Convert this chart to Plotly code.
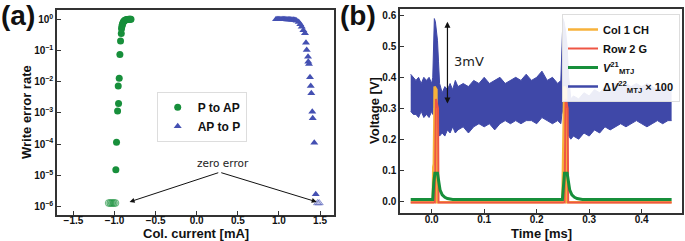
import plotly.graph_objects as go

# ---------------- Panel (a) data ----------------
p2ap_current = [-0.918, -0.927, -0.935, -0.943, -0.955, -0.951, -0.963, -0.976, -0.984,
                -0.915, -0.910, -0.905, -0.900, -0.893, -0.885, -0.877, -0.868, -0.858,
                -0.848, -0.838, -0.828, -0.818, -0.808, -0.800]
p2ap_wer = [0.35, 0.20, 0.075, 0.013, 0.0073, 0.002, 0.00115, 1.15e-4, 1.5e-5,
            0.50, 0.60, 0.68, 0.75, 0.82, 0.88, 0.92, 0.95, 0.97,
            0.985, 0.99, 1.0, 1.0, 1.0, 1.0]
p2ap_zero_current = [-1.07, -1.05, -1.03, -1.01, -0.99]
p2ap_zero_wer = [1.3e-6, 1.3e-6, 1.3e-6, 1.3e-6, 1.3e-6]

ap2p_current = [0.965, 0.980, 0.995, 1.010, 1.025, 1.040, 1.055, 1.070, 1.085, 1.100,
                1.115, 1.130, 1.145, 1.160, 1.175, 1.190, 1.205, 1.216, 1.240, 1.260,
                1.277, 1.297, 1.317, 1.329, 1.338, 1.354, 1.357, 1.366, 1.378, 1.387,
                1.394, 1.406, 1.411, 1.430, 1.448]
ap2p_wer = [1.0, 1.0, 1.0, 1.0, 1.0, 1.0, 1.0, 1.0, 1.0, 0.99,
            0.99, 0.98, 0.98, 0.97, 0.96, 0.95, 0.93, 0.90, 0.82, 0.70,
            0.58, 0.45, 0.36, 0.178, 0.104, 0.063, 0.044, 0.037, 0.0138, 0.0073,
            0.0043, 0.0011, 6.7e-4, 1.1e-4, 2.5e-6]
ap2p_zero_current = [1.47, 1.49]
ap2p_zero_wer = [1.3e-6, 1.3e-6]

# ---------------- Panel (b) data ----------------
blue_t = [-0.040, -0.035, -0.030, -0.025, -0.020, -0.015, -0.010, -0.005, 0.000, 0.002,
          0.003, 0.005, 0.007, 0.009, 0.011, 0.013, 0.015,
          0.020, 0.025, 0.030, 0.035, 0.040, 0.045, 0.050, 0.060, 0.070, 0.080,
          0.090, 0.100, 0.110, 0.120, 0.130, 0.140, 0.150, 0.160, 0.170, 0.180,
          0.190, 0.200, 0.210, 0.220, 0.230, 0.240, 0.246,
          0.248, 0.250, 0.252, 0.255, 0.258, 0.261, 0.265,
          0.270, 0.280, 0.290, 0.300, 0.310, 0.320, 0.330, 0.340, 0.350, 0.360,
          0.370, 0.380, 0.390, 0.400, 0.410, 0.420, 0.430, 0.440, 0.450, 0.457]
blue_upper = [0.41, 0.40, 0.39, 0.40, 0.38, 0.40, 0.39, 0.40, 0.38, 0.40,
              0.50, 0.59, 0.58, 0.55, 0.52, 0.45, 0.38,
              0.35, 0.37, 0.36, 0.38, 0.36, 0.39, 0.37, 0.38, 0.37, 0.39,
              0.38, 0.40, 0.38, 0.39, 0.40, 0.38, 0.39, 0.40, 0.39, 0.41,
              0.39, 0.40, 0.42, 0.39, 0.40, 0.38, 0.39,
              0.50, 0.59, 0.58, 0.55, 0.50, 0.40, 0.33,
              0.34, 0.33, 0.35, 0.34, 0.36, 0.35, 0.37, 0.36, 0.38, 0.37,
              0.38, 0.37, 0.38, 0.37, 0.38, 0.37, 0.36, 0.37, 0.36, 0.36]
blue_lower = [0.29, 0.28, 0.28, 0.27, 0.29, 0.27, 0.28, 0.27, 0.29, 0.28,
              0.30, 0.33, 0.34, 0.30, 0.25, 0.22, 0.21,
              0.22, 0.21, 0.23, 0.22, 0.24, 0.22, 0.23, 0.24, 0.22, 0.24,
              0.25, 0.24, 0.25, 0.23, 0.25, 0.26, 0.25, 0.26, 0.25, 0.26,
              0.26, 0.25, 0.27, 0.26, 0.25, 0.26, 0.25,
              0.28, 0.30, 0.30, 0.28, 0.23, 0.21, 0.20,
              0.21, 0.20, 0.22, 0.21, 0.23, 0.22, 0.24, 0.23, 0.24, 0.25,
              0.24, 0.25, 0.26, 0.25, 0.24, 0.25, 0.26, 0.25, 0.26, 0.26]

orange_t = [-0.040, 0.002, 0.003, 0.004, 0.005, 0.0055, 0.009, 0.0095,
            0.249, 0.250, 0.251, 0.252, 0.2525, 0.256, 0.2565, 0.457]
orange_v = [-0.004, -0.004, 0.11, 0.12, 0.25, 0.37, 0.36, -0.004,
            -0.004, 0.11, 0.12, 0.25, 0.37, 0.36, -0.004, -0.004]

red_t = [-0.040, 0.006, 0.008, 0.012, 0.013, 0.253, 0.255, 0.259, 0.260, 0.457]
red_v = [-0.005, -0.005, 0.33, 0.30, -0.005, -0.005, 0.33, 0.30, -0.005, -0.005]

green_t = [-0.040, 0.002, 0.004, 0.006, 0.011, 0.013, 0.016, 0.020, 0.025, 0.030, 0.040,
           0.249, 0.251, 0.253, 0.258, 0.260, 0.263, 0.267, 0.272, 0.277, 0.287, 0.457]
green_v = [0.005, 0.005, 0.06, 0.09, 0.09, 0.06, 0.035, 0.02, 0.012, 0.008, 0.005,
           0.005, 0.06, 0.09, 0.09, 0.06, 0.035, 0.02, 0.012, 0.008, 0.005, 0.005]

a_xticks = [-1.5, -1.0, -0.5, 0.0, 0.5, 1.0, 1.5]
a_yticks = [1, 1e-1, 1e-2, 1e-3, 1e-4, 1e-5, 1e-6]
a_yticktext = ["10<sup>0</sup>", "10<sup>\u22121</sup>", "10<sup>\u22122</sup>",
               "10<sup>\u22123</sup>", "10<sup>\u22124</sup>", "10<sup>\u22125</sup>",
               "10<sup>\u22126</sup>"]
b_xticks = [0.0, 0.1, 0.2, 0.3, 0.4]
b_yticks = [0.0, 0.1, 0.2, 0.3, 0.4, 0.5, 0.6]

GREEN = "#178f3b"
BLUE_A = "#4450b2"
BLUE_B = "#3f48a8"
ORANGE = "#f7b23b"
RED = "#ee5544"

W, H = 685, 241
FONT = "Liberation Sans"

fig = go.Figure()

# ---- panel (a)
fig.add_trace(go.Scatter(x=p2ap_current, y=p2ap_wer, mode="markers", name="P to AP",
                         marker=dict(symbol="circle", size=7, color=GREEN),
                         xaxis="x", yaxis="y", legend="legend"))
fig.add_trace(go.Scatter(x=ap2p_current, y=ap2p_wer, mode="markers", name="AP to P",
                         marker=dict(symbol="triangle-up", size=7, color=BLUE_A),
                         xaxis="x", yaxis="y", legend="legend"))
fig.add_trace(go.Scatter(x=p2ap_zero_current, y=p2ap_zero_wer, mode="markers", showlegend=False,
                         marker=dict(symbol="circle", size=7, color="rgba(23,143,59,0.25)",
                                     line=dict(color="rgba(23,143,59,0.55)", width=1)),
                         xaxis="x", yaxis="y"))
fig.add_trace(go.Scatter(x=ap2p_zero_current, y=ap2p_zero_wer, mode="markers", showlegend=False,
                         marker=dict(symbol="triangle-up", size=7, color="rgba(68,80,178,0.2)",
                                     line=dict(color="rgba(68,80,178,0.55)", width=1)),
                         xaxis="x", yaxis="y"))

# ---- panel (b)
fig.add_trace(go.Scatter(x=blue_t, y=blue_upper, mode="lines", showlegend=False,
                         line=dict(color=BLUE_B, width=1), xaxis="x2", yaxis="y2"))
fig.add_trace(go.Scatter(x=blue_t, y=blue_lower, mode="lines", showlegend=False, fill="tonexty",
                         fillcolor=BLUE_B, line=dict(color=BLUE_B, width=1),
                         xaxis="x2", yaxis="y2"))
fig.add_trace(go.Scatter(x=orange_t, y=orange_v, mode="lines", name="Col 1 CH",
                         line=dict(color=ORANGE, width=2.5), xaxis="x2", yaxis="y2",
                         legend="legend2"))
fig.add_trace(go.Scatter(x=red_t, y=red_v, mode="lines", name="Row 2 G",
                         line=dict(color=RED, width=2), xaxis="x2", yaxis="y2",
                         legend="legend2"))
fig.add_trace(go.Scatter(x=green_t, y=green_v, mode="lines",
                         name="<i>V</i><sup>21</sup><sub>MTJ</sub>",
                         line=dict(color=GREEN, width=3), xaxis="x2", yaxis="y2",
                         legend="legend2"))
fig.add_trace(go.Scatter(x=[None], y=[None], mode="lines",
                         name="\u0394<i>V</i><sup>22</sup><sub>MTJ</sub> \u00d7 100",
                         line=dict(color=BLUE_B, width=2.5), xaxis="x2", yaxis="y2",
                         legend="legend2"))

axis_common = dict(showline=True, mirror=True, linecolor="#333", linewidth=1.5,
                   ticks="inside", ticklen=4, tickcolor="#333", showgrid=False, zeroline=False,
                   automargin=False,
                   tickfont=dict(family=FONT, size=10, color="#111", weight="bold"))

fig.update_layout(
    template="none",
    width=W, height=H, margin=dict(l=0, r=0, t=0, b=0, autoexpand=False),
    paper_bgcolor="white", plot_bgcolor="white",
    xaxis=dict(domain=[57 / W, 334 / W], range=[-1.70, 1.67], tickvals=a_xticks,
               tickformat=".1f", anchor="y", ticklabelstandoff=-5, **axis_common),
    yaxis=dict(domain=[1 - 215 / H, 1 - 10 / H], type="log", range=[-6.27, 0.298],
               tickvals=a_yticks, ticktext=a_yticktext, anchor="x", **axis_common),
    xaxis2=dict(domain=[400 / W, 682 / W], range=[-0.0604, 0.4768], tickvals=b_xticks,
                tickformat=".1f", anchor="y2", ticklabelstandoff=-4, **axis_common),
    yaxis2=dict(domain=[1 - 213 / H, 1 - 9 / H], range=[-0.0388, 0.621], tickvals=b_yticks,
                tickformat=".1f", anchor="x2", **axis_common),
    legend=dict(x=156.7 / W, y=1 - 91.7 / H, xanchor="left", yanchor="top",
                bgcolor="white", bordercolor="#dddddd", borderwidth=1, traceorder="normal",
                font=dict(family=FONT, size=12, color="#111", weight="bold"),
                itemwidth=30, tracegroupgap=0),
    legend2=dict(x=680 / W, y=1 - 14 / H, xanchor="right", yanchor="top", traceorder="normal",
                 bgcolor="rgba(255,255,255,0.9)", bordercolor="#dddddd", borderwidth=1,
                 font=dict(family=FONT, size=11, color="#111", weight="bold"),
                 tracegroupgap=0),
)

ann = []


def ptext(text, px, py, size, angle=0, family=FONT):
    return dict(text=text, x=px / W, y=1 - py / H, xref="paper", yref="paper",
                xanchor="center", yanchor="middle", textangle=angle, showarrow=False,
                font=dict(family=family, size=size, color="#111"))


# panel labels
ann.append(ptext("<b>(a)</b>", 18, 15, 28))
ann.append(ptext("<b>(b)</b>", 358, 15, 28))
# axis titles
ann.append(ptext("<b>Col. current [mA]</b>", (57 + 334) / 2, 233, 13))
ann.append(ptext("<b>Write error rate</b>", 26, 112, 13, angle=-90))
ann.append(ptext("<b>Time [ms]</b>", (400 + 682) / 2, 233, 13))
ann.append(ptext("<b>Voltage [V]</b>", 375, 111, 13, angle=-90))
# zero error annotation
ann.append(dict(text="zero error", x=0.317, y=-4.615, xref="x", yref="y", showarrow=False,
                xanchor="center", yanchor="middle",
                font=dict(family="DejaVu Sans", size=10.5, color="#222")))
for tx, ty in [(-0.817, -5.85), (1.46, -5.85)]:
    ann.append(dict(text="", x=tx, y=ty, ax=0.28, ay=-4.9, xref="x", yref="y",
                    axref="x", ayref="y", showarrow=True, arrowhead=2, arrowsize=1,
                    arrowwidth=1, arrowcolor="#111"))
# 3mV arrow
ann.append(dict(text="", x=0.030, y=0.315, ax=0.030, ay=0.585, xref="x2", yref="y2",
                axref="x2", ayref="y2", showarrow=True, arrowhead=2, startarrowhead=2,
                arrowside="end+start", arrowsize=1, startarrowsize=1, arrowwidth=1.2,
                arrowcolor="#111"))
ann.append(dict(text="3mV", x=0.039, y=0.45, xref="x2", yref="y2", xanchor="left",
                yanchor="middle", showarrow=False,
                font=dict(family="DejaVu Sans", size=13, color="#222")))
fig.update_layout(annotations=ann)

fig.write_html("out.html", config={"displayModeBar": False},
               post_script="document.body.style.margin='0';document.body.style.padding='0';")
